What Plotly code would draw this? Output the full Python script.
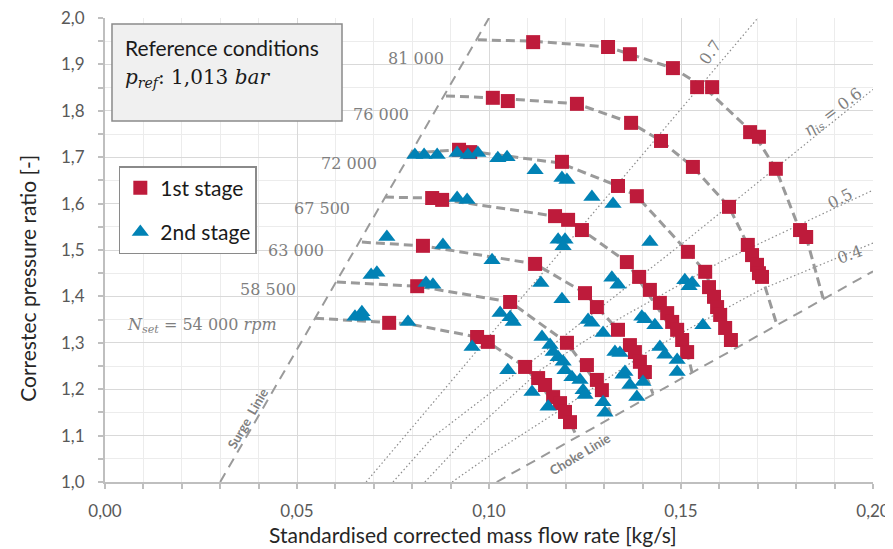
import plotly.graph_objects as go

# ---------------- data ----------------
# 1st stage measurement points (red squares)
stage1_x = [0.1115, 0.1310, 0.1367, 0.1479, 0.1542, 0.1581, 0.1680, 0.1703, 0.1747, 0.1810, 0.1826,
            0.1010, 0.1049, 0.1229, 0.1370, 0.1448, 0.1531, 0.1625, 0.1674, 0.1685, 0.1698, 0.1703, 0.1711,
            0.0922, 0.0951, 0.1190, 0.1336, 0.1385, 0.1518, 0.1563, 0.1573, 0.1586, 0.1594, 0.1602, 0.1615, 0.1630,
            0.0852, 0.0878, 0.1172, 0.1206, 0.1242, 0.1359, 0.1391, 0.1419, 0.1445, 0.1464, 0.1477, 0.1490, 0.1503, 0.1516,
            0.0828, 0.1120, 0.1250, 0.1281, 0.1336, 0.1367, 0.1380, 0.1393, 0.1406,
            0.0813, 0.1055, 0.1203, 0.1255, 0.1281, 0.1294,
            0.0740, 0.0969, 0.0997, 0.1094, 0.1128, 0.1146, 0.1167, 0.1185, 0.1198, 0.1211]
stage1_y = [1.948, 1.9375, 1.922, 1.892, 1.851, 1.851, 1.754, 1.744, 1.675, 1.543, 1.528,
            1.828, 1.821, 1.815, 1.774, 1.735, 1.679, 1.593, 1.511, 1.489, 1.468, 1.450, 1.442,
            1.716, 1.711, 1.690, 1.638, 1.616, 1.496, 1.453, 1.420, 1.399, 1.377, 1.360, 1.332, 1.306,
            1.612, 1.608, 1.573, 1.565, 1.543, 1.474, 1.442, 1.414, 1.386, 1.364, 1.345, 1.328, 1.306, 1.280,
            1.509, 1.470, 1.407, 1.377, 1.328, 1.295, 1.280, 1.259, 1.237,
            1.422, 1.388, 1.300, 1.252, 1.220, 1.198,
            1.343, 1.3125, 1.302, 1.248, 1.224, 1.209, 1.183, 1.170, 1.151, 1.129]

# 2nd stage measurement points (blue triangles)
stage2_x = [0.0807, 0.0831, 0.0865, 0.0917, 0.0945, 0.0971, 0.1023, 0.1047, 0.1120, 0.1190, 0.1203,
            0.1268, 0.1323,
            0.0917, 0.0943, 0.1180, 0.1198, 0.1193, 0.1419,
            0.0734, 0.0880, 0.1008, 0.1135, 0.1190,
            0.0693, 0.0708, 0.0836, 0.0854, 0.1029, 0.1055, 0.1063,
            0.0651, 0.0669, 0.0672, 0.0789, 0.0956,
            0.1049, 0.1112, 0.1154, 0.1138, 0.1159, 0.1167, 0.1180, 0.1193, 0.1198, 0.1216, 0.1237, 0.1245, 0.1250,
            0.1297, 0.1302, 0.1258, 0.1268, 0.1297,
            0.1328, 0.1341, 0.1349, 0.1354, 0.1367, 0.1385, 0.1401,
            0.1320, 0.1336, 0.1398, 0.1406, 0.1432, 0.1445, 0.1458, 0.1490, 0.1490,
            0.1510, 0.1529, 0.1521, 0.1557]
stage2_y = [1.705, 1.705, 1.705, 1.709, 1.705, 1.709, 1.698, 1.700, 1.672, 1.655, 1.651,
            1.614, 1.599,
            1.612, 1.608, 1.522, 1.522, 1.508, 1.517,
            1.528, 1.511, 1.478, 1.429, 1.394,
            1.446, 1.451, 1.429, 1.425, 1.364, 1.355, 1.345,
            1.356, 1.366, 1.356, 1.345, 1.291,
            1.241, 1.194, 1.162, 1.3125, 1.295, 1.280, 1.269, 1.259, 1.241, 1.226, 1.220, 1.198, 1.1875,
            1.172, 1.149, 1.349, 1.343, 1.321,
            1.280, 1.278, 1.231, 1.237, 1.209, 1.183, 1.2155,
            1.440, 1.425, 1.356, 1.351, 1.338, 1.291, 1.274, 1.263, 1.237,
            1.435, 1.429, 1.422, 1.338]

# speed lines (dashed), from surge line to choke line
speed_names = ["54000", "58500", "63000", "67500", "72000", "76000", "81000"]
speed_x = {
    "54000": [0.0547, 0.0740, 0.0789, 0.0969, 0.0997, 0.1094, 0.1211, 0.1229],
    "58500": [0.0604, 0.0813, 0.1055, 0.1203, 0.1294, 0.1320],
    "63000": [0.0669, 0.0828, 0.1120, 0.1250, 0.1281, 0.1336, 0.1406, 0.1427],
    "67500": [0.0729, 0.0852, 0.1172, 0.1242, 0.1359, 0.1516, 0.1529],
    "72000": [0.0799, 0.0922, 0.1185, 0.1336, 0.1385, 0.1518, 0.1563, 0.1630, 0.1635],
    "76000": [0.0888, 0.1010, 0.1229, 0.1370, 0.1448, 0.1531, 0.1625, 0.1674, 0.1711, 0.1750],
    "81000": [0.0971, 0.1115, 0.1310, 0.1367, 0.1479, 0.1560, 0.1690, 0.1747, 0.1810, 0.1826, 0.1870],
}
speed_y = {
    "54000": [1.353, 1.343, 1.341, 1.3125, 1.302, 1.248, 1.129, 1.097],
    "58500": [1.431, 1.422, 1.388, 1.300, 1.198, 1.138],
    "63000": [1.517, 1.509, 1.470, 1.407, 1.377, 1.328, 1.237, 1.190],
    "67500": [1.614, 1.612, 1.573, 1.543, 1.474, 1.280, 1.235],
    "72000": [1.709, 1.716, 1.6875, 1.638, 1.616, 1.496, 1.453, 1.306, 1.287],
    "76000": [1.832, 1.828, 1.815, 1.774, 1.735, 1.679, 1.593, 1.511, 1.442, 1.338],
    "81000": [1.953, 1.950, 1.9375, 1.922, 1.892, 1.851, 1.750, 1.675, 1.541, 1.528, 1.396],
}
speed_labels = ["<i>N</i><sub><i>set</i></sub> = 54 000 <i>rpm</i>", "58 500", "63 000",
                "67 500", "72 000", "76 000", "81 000"]

# surge and choke lines
surge_x = [0.030, 0.100]
surge_y = [1.0, 2.0]
choke_x = [0.102, 0.200]
choke_y = [1.0, 1.454]

# isentropic efficiency lines (dotted)
eff_names = ["0.7", "0.6", "0.5", "0.4"]
eff_x = {
    "0.7": [0.068, 0.1003, 0.170],
    "0.6": [0.0750, 0.0854, 0.1133, 0.1505, 0.2000],
    "0.5": [0.0833, 0.0943, 0.1133, 0.1341, 0.1602, 0.2000],
    "0.4": [0.0904, 0.1016, 0.1185, 0.1419, 0.1706, 0.2000],
}
eff_y = {
    "0.7": [1.0, 1.317, 2.0],
    "0.6": [1.0, 1.097, 1.274, 1.515, 1.846],
    "0.5": [1.0, 1.097, 1.241, 1.353, 1.474, 1.629],
    "0.4": [1.0, 1.065, 1.155, 1.284, 1.414, 1.515],
}
eff_labels = ["0.7", "<i>η</i><sub><i>is</i></sub> = 0.6", "0.5", "0.4"]

x_ticks = [0.00, 0.05, 0.10, 0.15, 0.20]
y_ticks = [1.0, 1.1, 1.2, 1.3, 1.4, 1.5, 1.6, 1.7, 1.8, 1.9, 2.0]

# ---------------- styles ----------------
RED = "#BE1B3B"
BLUE = "#0182B5"
GRAY_LINE = "#9a9a9a"
GRAY_TEXT = "#7f7f7f"
SANS = "Lato, 'Open Sans', sans-serif"
SERIF = "'DejaVu Serif', serif"

fig = go.Figure()

for name in eff_names:
    fig.add_trace(go.Scatter(x=eff_x[name], y=eff_y[name], mode="lines", showlegend=False,
                             hoverinfo="skip",
                             line=dict(color="#8c8c8c", width=1.2, dash="1.5px,2.5px")))

fig.add_trace(go.Scatter(x=surge_x, y=surge_y, mode="lines", showlegend=False, hoverinfo="skip",
                         line=dict(color=GRAY_LINE, width=2, dash="10px,7px")))
fig.add_trace(go.Scatter(x=choke_x, y=choke_y, mode="lines", showlegend=False, hoverinfo="skip",
                         line=dict(color=GRAY_LINE, width=2, dash="10px,7px")))

for name in speed_names:
    fig.add_trace(go.Scatter(x=speed_x[name], y=speed_y[name], mode="lines", showlegend=False,
                             hoverinfo="skip",
                             line=dict(color=GRAY_LINE, width=3, dash="9px,5px")))

fig.add_trace(go.Scatter(x=stage1_x, y=stage1_y, mode="markers", name="1st stage",
                         legendgroup="s1",
                         marker=dict(symbol="square", size=14, color=RED)))
fig.add_trace(go.Scatter(x=stage2_x, y=stage2_y, mode="markers", name="2nd stage",
                         legendgroup="s2",
                         marker=dict(symbol="triangle-up", size=15, color=BLUE)))

# speed labels
speed_lab_pos = [(0.0253, 1.338), (0.0424, 1.414), (0.0497, 1.500), (0.0565, 1.590),
                 (0.0635, 1.6875), (0.0719, 1.793), (0.0810, 1.912)]
for lab, (px, py) in zip(speed_labels, speed_lab_pos):
    fig.add_annotation(x=px, y=py, xref="x", yref="y", text=lab, showarrow=False,
                       xanchor="center", yanchor="middle",
                       font=dict(family=SERIF, size=16, color=GRAY_TEXT))

# efficiency labels
eff_lab_pos = [(0.1576, 1.925, -55), (0.1896, 1.797, -37), (0.1914, 1.612, -27), (0.1940, 1.491, -20)]
for lab, (px, py, ang) in zip(eff_labels, eff_lab_pos):
    fig.add_annotation(x=px, y=py, xref="x", yref="y", text=lab, showarrow=False, textangle=ang,
                       xanchor="center", yanchor="middle",
                       font=dict(family=SERIF, size=16, color=GRAY_TEXT))

fig.add_annotation(x=0.0372, y=1.138, xref="x", yref="y", text="<b>Surge  Linie</b>",
                   showarrow=False, textangle=-60, xanchor="center", yanchor="middle",
                   font=dict(family=SANS, size=13, color=GRAY_TEXT))
fig.add_annotation(x=0.1237, y=1.060, xref="x", yref="y", text="<b>Choke Linie</b>",
                   showarrow=False, textangle=-31, xanchor="center", yanchor="middle",
                   font=dict(family=SANS, size=13, color=GRAY_TEXT))

# reference conditions box
fig.add_shape(type="rect", xref="paper", yref="paper", x0=0.0091, x1=0.3086, y0=0.778, y1=0.987,
              fillcolor="#f0f0f0", line=dict(color="#8a8a8a", width=1.5), layer="above")
fig.add_annotation(x=0.024, y=0.9375, xref="paper", yref="paper", xanchor="left", yanchor="middle",
                   text="Reference conditions", showarrow=False,
                   font=dict(family=SANS, size=21, color="#1a1a1a"))
fig.add_annotation(x=0.024, y=0.870, xref="paper", yref="paper", xanchor="left", yanchor="middle",
                   text="<i>p</i><sub><i>ref</i></sub>: 1,013 <i>bar</i>", showarrow=False,
                   font=dict(family=SERIF, size=20, color="#1a1a1a"))

# axis titles (placed as annotations for exact positioning)
fig.add_annotation(x=0.479, y=-0.114, xref="paper", yref="paper", xanchor="center", yanchor="middle",
                   text="Standardised corrected mass flow rate [kg/s]", showarrow=False,
                   font=dict(family=SANS, size=21, color="#262626"))
fig.add_annotation(x=-0.1003, y=0.44, xref="paper", yref="paper", textangle=-90,
                   xanchor="center", yanchor="middle",
                   text="Correstec pressure ratio [-]", showarrow=False,
                   font=dict(family=SANS, size=21, color="#262626"))

axis_common = dict(
    showline=True, linecolor="#bfbfbf", linewidth=2,
    ticks="outside", ticklen=5, tickcolor="#bfbfbf", tickwidth=1.5,
    showgrid=True, gridcolor="#d9d9d9", gridwidth=1.3,
    zeroline=False, automargin=False, ticklabeloverflow="allow",
    tickfont=dict(family=SANS, size=17, color="#595959"),
)

# the page body adds an 8 px offset, so the figure is 8 px smaller and margins shifted
fig.update_layout(
    width=885, height=541,
    margin=dict(l=97, r=20, t=10, b=67),
    paper_bgcolor="white", plot_bgcolor="white",
    separators=", ",
    showlegend=True,
    legend=dict(x=0.018, y=0.681, xanchor="left", yanchor="top",
                bgcolor="white", bordercolor="#8a8a8a", borderwidth=1.5,
                font=dict(family=SANS, size=21, color="#1a1a1a"),
                tracegroupgap=14, itemwidth=30),
    xaxis=dict(range=[0, 0.2], tickvals=x_ticks, tickformat=".2f",
               minor=dict(dtick=0.01, showgrid=True, gridcolor="#ececec", gridwidth=1,
                          ticks="outside", ticklen=5, tickcolor="#bfbfbf"),
               ticklabelstandoff=8,
               **axis_common),
    yaxis=dict(range=[1.0, 2.0], tickvals=y_ticks, tickformat=".1f",
               minor=dict(dtick=0.05, showgrid=True, gridcolor="#ececec", gridwidth=1,
                          ticks="outside", ticklen=5, tickcolor="#bfbfbf"),
               ticklabelstandoff=10,
               **axis_common),
)

fig.write_html("out.html")
